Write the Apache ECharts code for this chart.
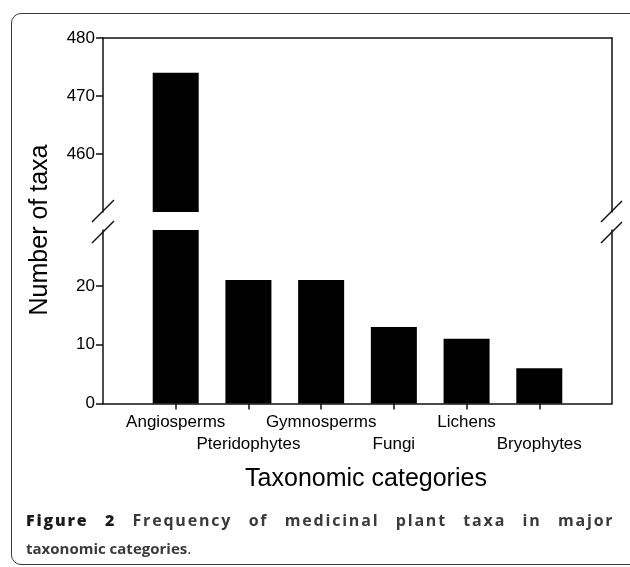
<!DOCTYPE html>
<html>
<head>
<meta charset="utf-8">
<script src="https://cdn.jsdelivr.net/npm/echarts@6/dist/echarts.min.js"></script>
<style>
html, body { margin: 0; padding: 0; background: #fff; }
#wrap { position: relative; width: 630px; height: 567px; overflow: hidden; }
.frame {
    position: absolute; left: 11px; top: 13px; width: 640px; height: 552px;
    border: 1.5px solid #3a3a3a; border-radius: 10px; box-sizing: border-box;
}
#chart { position: absolute; left: 0; top: 0; width: 630px; height: 567px; }
.cap {
    position: absolute; left: 26px; white-space: nowrap;
    font-family: 'Open Sans', sans-serif; font-weight: bold; font-size: 15px;
    line-height: 26px; color: #3a3a3a;
}
.cap1 { top: 507px; font-size: 16px; letter-spacing: 1.8px; word-spacing: 10.5px; }
.cap2 { top: 535px; }
.cap b { color: #1a1a1a; }
</style>
</head>
<body>
<div id="wrap">
    <div class="frame"></div>
    <div id="chart"></div>
    <div class="cap cap1"><b>Figure 2</b> Frequency of medicinal plant taxa in major</div>
    <div class="cap cap2">taxonomic categories<span style="font-weight:normal">.</span></div>
</div>
<script>
// data
const categories = ['Angiosperms', 'Pteridophytes', 'Gymnosperms', 'Fungi', 'Lichens', 'Bryophytes'];
const taxaCounts = [474, 21, 21, 13, 11, 6];
const lowerTicks = [0, 10, 20];
const upperTicks = [460, 470, 480];

// one empty slot each side, like the original x range
const axisCats = [''].concat(categories, ['']);
const barData = ['-'].concat(taxaCounts, ['-']);

const myChart = echarts.init(document.getElementById('chart'));

const font = 'Liberation Sans, Arial, sans-serif';
const lineStyle = { color: '#111', width: 1.5 };

const hiddenAxis = {
    axisTick: { show: false },
    axisLabel: { show: false },
    splitLine: { show: false }
};

const option = {
    animation: false,
    backgroundColor: 'transparent',
    grid: [
        { left: 103, right: 18, top: 38, height: 174 },
        { left: 103, right: 18, top: 230, height: 173.5 }
    ],
    xAxis: [
        {
            gridIndex: 0,
            type: 'category',
            position: 'top',
            boundaryGap: false,
            data: axisCats,
            axisLine: { lineStyle: lineStyle },
            ...hiddenAxis
        },
        {
            gridIndex: 1,
            type: 'category',
            position: 'bottom',
            boundaryGap: false,
            data: axisCats,
            axisLine: { lineStyle: lineStyle },
            axisTick: {
                length: 6,
                lineStyle: lineStyle,
                interval: (i) => i > 0 && i < axisCats.length - 1
            },
            axisLabel: {
                interval: 0,
                margin: 8,
                color: '#000',
                fontFamily: font,
                fontSize: 17,
                lineHeight: 22,
                formatter: (v, i) => (i % 2 === 0 ? '\n' + v : v)
            },
            splitLine: { show: false }
        }
    ],
    yAxis: [
        {
            gridIndex: 0,
            type: 'value',
            position: 'left',
            min: 450,
            max: 480,
            axisLine: { show: true, lineStyle: lineStyle },
            axisTick: { show: true, length: 7, lineStyle: lineStyle, customValues: upperTicks },
            axisLabel: { margin: 8, color: '#000', fontFamily: font, fontSize: 17, customValues: upperTicks },
            splitLine: { show: false }
        },
        {
            gridIndex: 0,
            type: 'value',
            position: 'right',
            min: 450,
            max: 480,
            axisLine: { show: true, lineStyle: lineStyle },
            ...hiddenAxis
        },
        {
            gridIndex: 1,
            type: 'value',
            position: 'left',
            min: 0,
            max: 29.5,
            axisLine: { show: true, lineStyle: lineStyle },
            axisTick: { show: true, length: 7, lineStyle: lineStyle, customValues: lowerTicks },
            axisLabel: { margin: 8, color: '#000', fontFamily: font, fontSize: 17, customValues: lowerTicks },
            splitLine: { show: false }
        },
        {
            gridIndex: 1,
            type: 'value',
            position: 'right',
            min: 0,
            max: 29.5,
            axisLine: { show: true, lineStyle: lineStyle },
            ...hiddenAxis
        }
    ],
    graphic: [
        // break marks on both axes
        { type: 'line', shape: { x1: 92, y1: 222, x2: 114, y2: 200 }, style: { stroke: '#111', lineWidth: 1.5 } },
        { type: 'line', shape: { x1: 92, y1: 243, x2: 114, y2: 221 }, style: { stroke: '#111', lineWidth: 1.5 } },
        { type: 'line', shape: { x1: 601, y1: 222, x2: 622, y2: 201 }, style: { stroke: '#111', lineWidth: 1.5 } },
        { type: 'line', shape: { x1: 601, y1: 243, x2: 622, y2: 222 }, style: { stroke: '#111', lineWidth: 1.5 } },
        {
            type: 'text',
            x: 40,
            y: 230,
            rotation: Math.PI / 2,
            style: {
                text: 'Number of taxa',
                font: '25px ' + font,
                fill: '#000',
                align: 'center',
                verticalAlign: 'middle'
            }
        },
        {
            type: 'text',
            x: 366,
            y: 479,
            style: {
                text: 'Taxonomic categories',
                font: '25px ' + font,
                fill: '#000',
                align: 'center',
                verticalAlign: 'middle'
            }
        }
    ],
    series: [
        {
            type: 'bar',
            xAxisIndex: 0,
            yAxisIndex: 0,
            barWidth: 46,
            itemStyle: { color: '#000' },
            data: barData
        },
        {
            type: 'bar',
            xAxisIndex: 1,
            yAxisIndex: 2,
            barWidth: 46,
            itemStyle: { color: '#000' },
            data: barData
        }
    ]
};

myChart.setOption(option);
</script>
</body>
</html>
